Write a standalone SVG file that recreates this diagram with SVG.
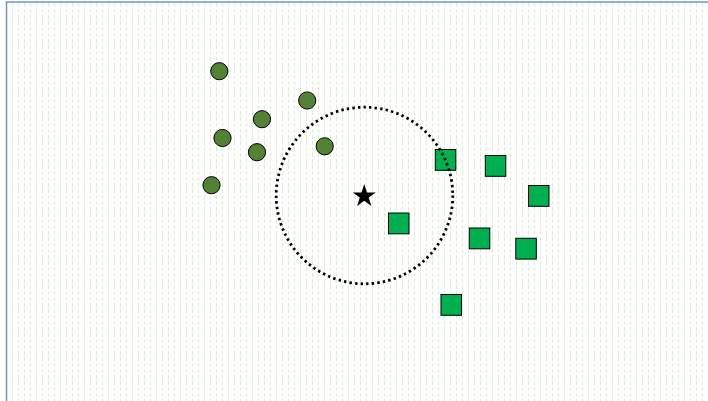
<svg xmlns="http://www.w3.org/2000/svg" width="708" height="401" viewBox="0 0 708 401">
<defs>
<pattern id="bg" patternUnits="userSpaceOnUse" x="0" y="3" width="6" height="6">
<line x1="0.5" y1="0" x2="0.5" y2="4" stroke="#dcecd0" stroke-width="1"/>
</pattern>
<style>
.c{fill:#548235;stroke:#000;stroke-width:1}
.s{fill:#00b050;stroke:#000;stroke-width:1}
</style>
</defs>
<rect x="0" y="0" width="708" height="401" fill="#fff"/>
<rect x="10" y="3" width="698" height="398" fill="url(#bg)"/>
<path d="M6.5 401 V2 H708" fill="none" stroke="#7397bd" stroke-width="1.5"/>
<g id="circles">
<circle id="c1" class="c" cx="219.3" cy="71.2" r="8.6"/>
<circle id="c2" class="c" cx="307.2" cy="100.5" r="8.6"/>
<circle id="c3" class="c" cx="262" cy="119.2" r="8.6"/>
<circle id="c4" class="c" cx="222.5" cy="138" r="8.6"/>
<circle id="c5" class="c" cx="257" cy="152.2" r="8.6"/>
<circle id="c6" class="c" cx="324.7" cy="146.3" r="8.6"/>
<circle id="c7" class="c" cx="211.5" cy="185.2" r="8.6"/>
</g>
<g id="squares">
<rect id="s1" class="s" x="435.3" y="149.5" width="20.5" height="20.8"/>
<rect id="s2" class="s" x="485.3" y="155.5" width="20.5" height="20.8"/>
<rect id="s3" class="s" x="528.5" y="185.5" width="20.5" height="20.8"/>
<rect id="s4" class="s" x="388.5" y="213" width="20.5" height="20.8"/>
<rect id="s5" class="s" x="469.3" y="228" width="20.5" height="20.8"/>
<rect id="s6" class="s" x="515.8" y="238.3" width="20.5" height="20.8"/>
<rect id="s7" class="s" x="441" y="294.5" width="20.5" height="20.8"/>
</g>
<g id="boundary">
<circle cx="364.5" cy="195.5" r="88.3" fill="none" stroke="#000" stroke-width="2.8" stroke-dasharray="2.4 3.2"/>
</g>
<g id="star">
<polygon fill="#000" points="364.2,184 367.0,192.4 375.8,192.4 368.7,197.6 371.4,206.0 364.2,200.8 357.1,206.0 359.8,197.6 352.7,192.4 361.5,192.4"/>
</g>
</svg>
